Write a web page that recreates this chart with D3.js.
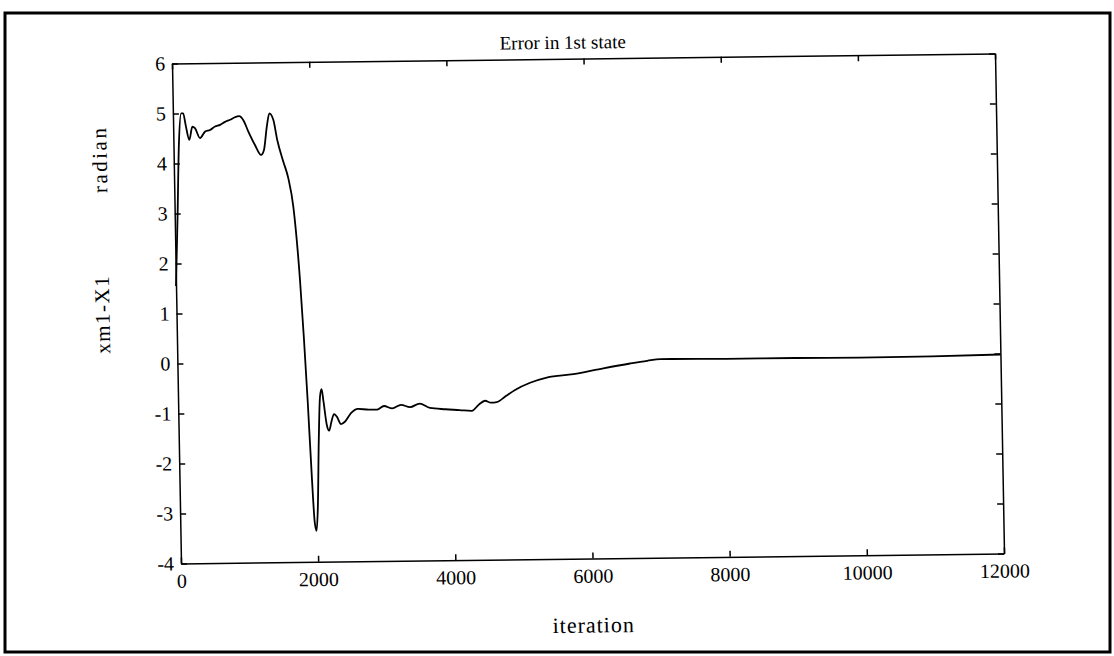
<!DOCTYPE html>
<html>
<head>
    <meta charset="utf-8">
    <title>Error in 1st state</title>
    <script src="https://cdn.jsdelivr.net/npm/d3@7"></script>
    <style>
        body { margin: 0; background: #fff; }
        text { font-family: "Liberation Serif", "DejaVu Serif", serif; fill: #000; }
        .curve { fill: none; stroke: #000; stroke-width: 1.8; }
        .axis path, .axis line { stroke: #000; stroke-width: 1.5; }
    </style>
</head>
<body>
    <div id="chart"></div>

    <script>
        // values
        const iterations = [0, 40, 80, 120, 150, 185, 232, 280, 318, 389, 464, 537, 611, 684, 758, 831, 904, 964,
            1025, 1095, 1188, 1274, 1318, 1365, 1406, 1462, 1515, 1597, 1665, 1731, 1809, 1850, 1890, 1930,
            1960, 1985, 2010, 2040, 2070, 2095, 2120, 2160, 2195, 2230, 2270, 2310, 2370, 2430, 2520, 2620,
            2780, 2900, 3000, 3120, 3250, 3380, 3520, 3670, 3900, 4100, 4280, 4380, 4475, 4560, 4645, 4780,
            4915, 5136, 5380, 5770, 6208, 6600, 6850, 7040, 7200, 8000, 9000, 9950, 11000, 12000];
        const errorValues = [1.55, 2.9, 4.4, 5.0, 5.0, 4.75, 4.47, 4.73, 4.70, 4.50, 4.63, 4.66, 4.73, 4.76, 4.82, 4.86, 4.91, 4.93,
            4.85, 4.62, 4.35, 4.15, 4.25, 4.71, 4.98, 4.85, 4.44, 4.01, 3.68, 3.11, 1.64, 0.5, -0.8, -2.3,
            -3.2, -3.38, -2.9, -1.6, -0.7, -0.55, -0.8, -1.25, -1.38, -1.2, -1.05, -1.1, -1.25, -1.2, -1.03, -0.95,
            -0.97, -0.97, -0.9, -0.95, -0.88, -0.93, -0.86, -0.95, -0.98, -1.0, -1.02, -0.9, -0.82, -0.86, -0.85, -0.73,
            -0.61, -0.47, -0.37, -0.31, -0.2, -0.11, -0.06, -0.03, -0.03, -0.04, -0.04, -0.05, -0.04, -0.02];
        const xTicks = [0, 2000, 4000, 6000, 8000, 10000, 12000];
        const yTicks = [-4, -3, -2, -1, 0, 1, 2, 3, 4, 5, 6];

        const data = iterations.map(function(d, i) {
            return { iteration: d, value: errorValues[i] };
        });

        const width = 823;
        const height = 500;
        const plain = function(d) { return String(d); };   // plain hyphen for negatives

        const svg = d3.select('#chart')
            .append('svg')
            .attr('width', 1114)
            .attr('height', 656);

        // outer border of the page
        svg.append('rect')
            .attr('x', 5)
            .attr('y', 13)
            .attr('width', 1105)
            .attr('height', 639)
            .attr('fill', 'none')
            .attr('stroke', '#000')
            .attr('stroke-width', 3);

        // the scan is slightly tilted, so the plot is drawn in a skewed frame
        const page = svg.append('g')
            .attr('transform', 'matrix(1,-0.01215,0.018,1,172,63.5)');

        const x = d3.scaleLinear().domain([0, 12000]).range([0, width]);
        const y = d3.scaleLinear().domain([-4, 6]).range([height, 0]);

        page.append('g')
            .attr('class', 'axis')
            .attr('transform', 'translate(0,' + height + ')')
            .call(d3.axisBottom(x).tickValues(xTicks).tickFormat(plain)
                .tickSizeInner(-6).tickSizeOuter(0).tickPadding(10))
            .attr('font-size', 20)
            .attr('font-family', null);

        page.append('g')
            .attr('class', 'axis')
            .call(d3.axisTop(x).tickValues(xTicks).tickFormat('')
                .tickSizeInner(-6).tickSizeOuter(0));

        page.append('g')
            .attr('class', 'axis')
            .call(d3.axisLeft(y).tickValues(yTicks).tickFormat(plain)
                .tickSizeInner(-6).tickSizeOuter(0).tickPadding(7))
            .attr('font-size', 20)
            .attr('font-family', null);

        page.append('g')
            .attr('class', 'axis')
            .attr('transform', 'translate(' + width + ',0)')
            .call(d3.axisRight(y).tickValues(yTicks).tickFormat('')
                .tickSizeInner(-6).tickSizeOuter(0));

        page.append('path')
            .datum(data)
            .attr('class', 'curve')
            .attr('d', d3.line()
                .x(function(d) { return x(d.iteration); })
                .y(function(d) { return y(d.value); })
                .curve(d3.curveMonotoneX));

        page.append('text')
            .attr('x', 391)
            .attr('y', -10)
            .attr('text-anchor', 'middle')
            .attr('font-size', 19)
            .text('Error in 1st state');

        page.append('text')
            .attr('x', width / 2)
            .attr('y', 574)
            .attr('text-anchor', 'middle')
            .attr('font-size', 22)
            .attr('letter-spacing', 1)
            .text('iteration');

        page.append('text')
            .attr('transform', 'translate(-67,250) rotate(-90)')
            .attr('text-anchor', 'middle')
            .attr('font-size', 21)
            .attr('letter-spacing', 1.5)
            .text('xm1-X1');

        page.append('text')
            .attr('transform', 'translate(-67,95) rotate(-90)')
            .attr('text-anchor', 'middle')
            .attr('font-size', 21)
            .attr('letter-spacing', 2.5)
            .text('radian');
    </script>
</body>
</html>
